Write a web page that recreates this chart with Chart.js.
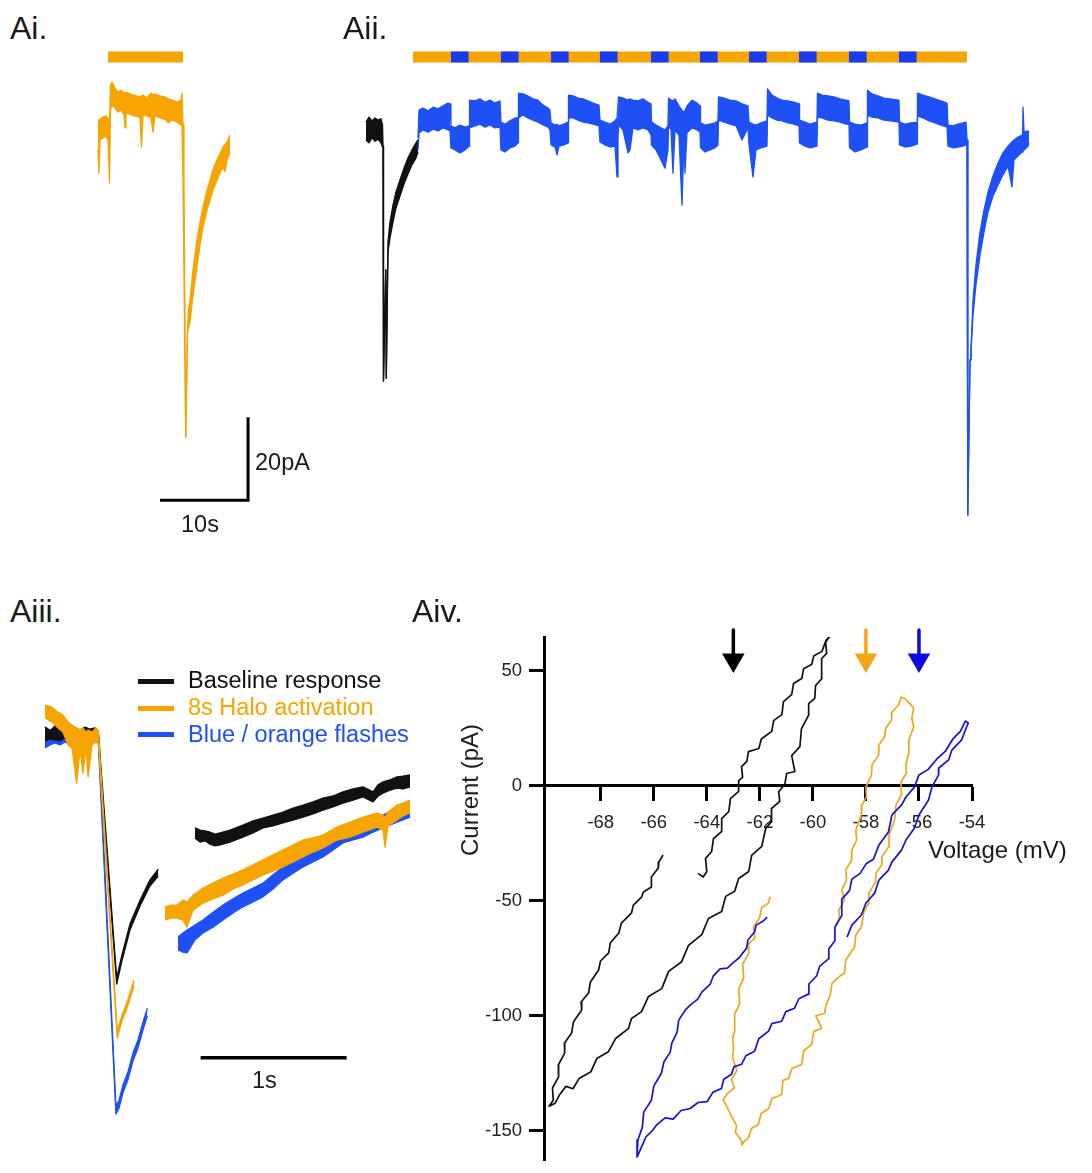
<!DOCTYPE html>
<html>
<head>
<meta charset="utf-8">
<script src="https://cdn.jsdelivr.net/npm/chart.js@4.4.0/dist/chart.umd.min.js"></script>
<style>
  body { margin: 0; background: #fff; }
  #page { position: relative; width: 1092px; height: 1173px; overflow: hidden; font-family: "Liberation Sans", Arial, sans-serif; color: #1a1a1a; }
  #page canvas { position: absolute; }
  .lbl { position: absolute; white-space: nowrap; line-height: 1; }
  .key { position: absolute; height: 5px; width: 36px; left: 138px; }
</style>
</head>
<body>
<div id="page">
  <canvas id="ai" width="260" height="500" style="left:90px;top:40px"></canvas>
  <canvas id="aii" width="700" height="490" style="left:355px;top:40px"></canvas>
  <canvas id="aiii" width="400" height="460" style="left:30px;top:680px"></canvas>
  <canvas id="aiv" width="652" height="565" style="left:440px;top:615px"></canvas>

  <div class="lbl" style="left:10px;top:12px;font-size:32px">Ai.</div>
  <div class="lbl" style="left:343px;top:12px;font-size:32px">Aii.</div>
  <div class="lbl" style="left:10px;top:595px;font-size:32px">Aiii.</div>
  <div class="lbl" style="left:412px;top:595px;font-size:32px">Aiv.</div>

  <div class="lbl" style="left:255px;top:451px;font-size:23.5px">20pA</div>
  <div class="lbl" style="left:181px;top:513px;font-size:23.5px">10s</div>

  <div class="key" style="top:679px;background:#111"></div>
  <div class="key" style="top:706px;background:#f5a400"></div>
  <div class="key" style="top:732px;background:#1e50f5"></div>
  <div class="lbl" style="left:188px;top:669px;font-size:23.5px;color:#111">Baseline response</div>
  <div class="lbl" style="left:188px;top:696px;font-size:23.5px;color:#f5a400">8s Halo activation</div>
  <div class="lbl" style="left:188px;top:723px;font-size:23.5px;color:#1e50f5">Blue / orange flashes</div>
  <div class="lbl" style="left:252px;top:1069px;font-size:23.5px">1s</div>

  <div class="lbl" style="left:470px;top:790px;font-size:24px;transform:translate(-50%,-50%) rotate(-90deg)">Current (pA)</div>
  <div class="lbl" style="left:928px;top:838px;font-size:24px">Voltage (mV)</div>
</div>

<script>
// Ai: 8 s Halo activation, [time s, upper pA, lower pA] envelope of the noisy trace
const aiOrange = [
  [0, -0.5, -7.2], [0.11, 0, -12.8], [0.23, 0.2, -4.8], [0.57, 0.7, -4.3], [0.91, 1.0, -3.9],
  [1.14, 0.5, -4.8], [1.31, 0, -15.2], [1.42, 8.4, 2.4], [1.59, 9.2, 3.6], [1.93, 7.7, 2.9],
  [2.27, 6.7, 1.9], [2.61, 7.2, 2.4], [2.95, 6.5, 1.2], [3.07, 6.5, -1.9], [3.18, 6.7, 1.7],
  [3.64, 6.3, 1.4], [4.09, 6.0, 1.0], [4.77, 5.5, 0.7], [4.94, 5.8, -6.5], [5.11, 6.0, 1.2],
  [5.57, 5.3, 1.0], [6.02, 6.5, 0.5], [6.25, 6.0, -2.9], [6.48, 6.3, 1.0], [7.05, 5.8, 0.5],
  [7.73, 5.5, 0], [7.95, 5.1, -0.7], [8.41, 4.8, 0], [8.98, 4.3, -0.5], [9.43, 4.8, -1.2],
  [9.55, 6.5, -1.2], [9.66, -1.2, -15.2], [9.77, -15.2, -15.2], [9.97, -76.4, -76.4],
  [10.17, -51.1, -51.1], [10.28, -45.8, -50.1], [10.45, -43.4, -48.7], [10.80, -36.1, -42.2],
  [11.25, -28.9, -35.4], [11.59, -24.6, -30.1], [11.93, -21.0, -25.8], [12.39, -16.9, -21.7],
  [12.73, -14.5, -19.3], [13.07, -12.0, -16.9], [13.52, -9.6, -14.5], [13.86, -8.2, -12.8],
  [14.20, -6.5, -11.3], [14.43, -6.0, -12.5], [14.66, -5.3, -9.6], [15.0, -3.6, -8.0]
];
const aiLight = [1.14, 9.66];

// Aii: baseline (black) then blue / orange flashes (blue)
const aiiBlack = [
  [0.11, 1.9, -2.4], [0.45, 3.1, -3.1], [0.80, 2.2, -1.9], [1.14, 2.9, -2.7], [1.48, 2.4, -2.2],
  [1.82, 2.7, -3.1], [1.99, 1.2, -4.1], [2.05, -3.9, -3.9], [2.10, -60.5, -60.5], [2.36, -33.7, -33.7],
  [2.42, -59.8, -59.8], [2.61, -27.0, -29.5], [2.84, -22.2, -26.0], [3.18, -18.1, -22.2],
  [3.52, -14.9, -18.8], [3.98, -12.0, -15.9], [4.43, -9.2, -13.0], [4.89, -6.7, -10.6],
  [5.34, -4.8, -8.4], [5.80, -3.1, -6.7], [6.02, -2.4, -5.3]
];
const aiiBlue = [
  [6.02, -1.9, -4.8], [6.14, 4.8, -0.7], [6.59, 5.3, 0], [7.16, 4.6, -0.5], [7.73, 5.5, 0.2],
  [8.30, 5.1, -0.2], [8.86, 5.8, 0.5], [9.43, 6.5, 0], [9.66, 6.3, -0.2], [9.77, 1.0, -4.3],
  [10.23, 0.5, -4.8], [10.80, 1.2, -5.5], [11.36, 0.7, -4.8], [11.82, 1.0, -3.9], [11.88, 7.2, 0.5],
  [12.5, 7.0, 1.0], [13.07, 7.5, 1.4], [13.64, 6.7, 0.7], [14.20, 7.2, 1.2], [14.77, 6.5, 0.5],
  [15.34, 7.0, 0.7], [15.45, 1.9, -4.8], [15.91, 1.4, -5.3], [16.48, 2.2, -4.3], [17.05, 2.9, -3.9],
  [17.39, 2.9, -3.1], [17.44, 8.9, 2.9], [17.95, 8.7, 3.6], [18.52, 8.2, 2.9], [19.09, 7.5, 2.4],
  [19.66, 7.2, 1.9], [20.23, 6.0, 1.2], [20.80, 5.3, 0.7], [21.02, 4.8, 0], [21.14, 1.7, -3.6],
  [21.59, 1.2, -4.1], [21.82, 1.4, -6.0], [22.05, 1.0, -3.9], [22.61, 1.4, -3.6], [23.07, 1.9, -3.1],
  [23.13, 8.4, 2.9], [23.64, 8.2, 2.9], [24.20, 7.7, 2.4], [24.77, 7.5, 1.9], [25.34, 7.0, 1.7],
  [25.91, 6.5, 1.4], [26.59, 6.0, 1.0], [26.70, 2.4, -2.9], [27.27, 1.9, -3.6], [27.84, 1.4, -4.1],
  [28.41, 2.2, -3.9], [28.64, 2.9, -11.3], [28.75, 2.9, -2.4], [28.81, 8.0, 1.2], [29.32, 7.7, 0],
  [29.89, 7.2, -5.5], [30.11, 7.5, -4.8], [30.45, 7.2, 0.5], [31.02, 7.0, 0], [31.59, 7.5, 0.5],
  [32.16, 6.7, 0], [32.50, 6.3, -1.2], [32.56, 1.9, -3.6], [33.07, 1.2, -4.8], [33.64, 0.5, -7.2],
  [34.09, 0, -9.2], [34.43, 1.0, -4.8], [34.49, 7.7, 1.2], [34.77, 7.2, 0], [35.0, 7.0, -10.4],
  [35.23, 7.5, 0], [35.68, 5.8, -1.2], [36.02, 4.8, -18.1], [36.25, 4.3, -1.9], [36.36, 4.6, -10.4],
  [36.59, 5.8, -0.7], [37.16, 7.2, 0.5], [37.73, 6.5, 0], [38.07, 5.8, -0.5], [38.13, 1.7, -4.3],
  [38.64, 1.2, -5.3], [39.20, 1.4, -4.8], [39.77, 1.7, -4.3], [40.11, 2.2, -3.6], [40.17, 8.0, 2.4],
  [40.80, 7.7, 1.9], [41.48, 7.2, 1.4], [42.16, 7.0, 1.0], [42.84, 6.3, -2.4], [43.52, 5.8, 0.5],
  [43.64, 1.9, -3.6], [44.09, 1.4, -11.3], [44.43, 1.2, -4.8], [45.0, 1.7, -4.3], [45.68, 2.2, -3.9],
  [45.74, 9.9, 3.6], [46.25, 8.4, 2.9], [46.82, 7.7, 2.4], [47.39, 7.2, 2.2], [48.07, 7.0, 1.7],
  [48.75, 6.7, 1.4], [49.32, 6.3, 1.0], [49.38, 2.4, -3.1], [50.0, 1.9, -3.9], [50.57, 1.4, -4.3],
  [51.36, 1.9, -3.9], [51.42, 8.9, 3.1], [51.93, 8.4, 2.9], [52.61, 8.2, 2.4], [53.30, 8.0, 2.2],
  [53.98, 7.5, 1.9], [54.66, 7.2, 1.4], [55.0, 7.0, 1.4], [55.06, 1.9, -4.3], [55.68, 1.4, -5.3],
  [56.36, 1.2, -4.8], [57.05, 1.7, -4.1], [57.10, 9.6, 3.6], [57.61, 8.7, 3.1], [58.30, 8.2, 2.9],
  [58.98, 7.7, 2.4], [59.66, 7.5, 2.2], [60.68, 7.2, 1.9], [60.74, 1.9, -3.6], [61.36, 1.4, -4.1],
  [62.05, 1.7, -3.9], [62.73, 1.9, -3.4], [62.78, 8.9, 3.4], [63.41, 8.4, 2.9], [64.09, 8.0, 2.2],
  [64.77, 7.5, 1.7], [65.45, 7.0, 1.2], [66.14, 6.5, 0.7], [66.25, 1.2, -3.9], [66.82, 1.0, -4.3],
  [67.39, 1.4, -4.1], [67.95, 1.7, -3.9], [68.30, 1.9, -3.6], [68.41, -2.4, -2.4], [68.50, -92.8, -92.8],
  [68.75, -55.4, -55.4], [68.86, -53.0, -53.5], [69.09, -41.0, -44.6], [69.43, -32.5, -37.3],
  [69.89, -24.6, -30.1], [70.34, -19.3, -24.6], [70.80, -14.9, -19.8], [71.36, -11.1, -15.9],
  [71.93, -8.0, -13.3], [72.50, -5.5, -10.8], [73.07, -3.9, -8.7], [73.52, -2.9, -13.7],
  [73.75, -2.4, -7.2], [74.20, -1.7, -6.3], [74.66, -1.2, -5.3], [74.77, 5.5, -4.8],
  [74.89, -0.5, -4.8], [75.34, -0.2, -3.9], [75.45, -0.7, -3.1]
];
const aiiLight = [5.45, 68.4];
const flashStarts = [9.77, 15.45, 21.14, 26.70, 32.5, 38.07, 43.64, 49.32, 55.0, 60.68];
const flashLength = 2.0;

// Aiii: responses overlaid, [time s, upper pA, lower pA]
const aiiiBlack1 = [
  [0, 1.9, -1.4], [0.034, 1.0, -1.0], [0.068, 2.2, -1.2], [0.103, 1.2, -1.4], [0.137, 1.9, -0.7],
  [0.171, 1.4, -1.7], [0.205, 1.7, -1.0], [0.240, 1.2, -1.4], [0.274, 1.9, -1.2], [0.308, 1.4, -0.7],
  [0.342, 1.7, -1.2], [0.365, 1.0, -1.2], [0.491, -58.6, -60.0], [0.525, -53.3, -54.7],
  [0.582, -45.5, -47.0], [0.651, -39.8, -41.2], [0.719, -34.9, -36.4], [0.776, -32.3, -34.0]
];
const aiiiBlack2 = [
  [1.027, -22.4, -24.8], [1.062, -22.9, -25.8], [1.096, -23.1, -25.5], [1.130, -23.4, -26.3],
  [1.164, -23.9, -26.7], [1.199, -23.6, -26.5], [1.267, -22.9, -25.8], [1.356, -21.7, -24.6],
  [1.425, -20.7, -23.6], [1.493, -20.0, -22.4], [1.562, -19.3, -21.9], [1.630, -18.6, -21.2],
  [1.699, -17.6, -20.5], [1.767, -16.9, -19.8], [1.836, -16.1, -19.0], [1.904, -15.2, -18.1],
  [1.973, -14.7, -17.3], [2.041, -13.7, -16.4], [2.110, -13.0, -15.7], [2.178, -12.5, -14.9],
  [2.247, -13.7, -16.1], [2.281, -12.0, -14.7], [2.315, -11.3, -14.0], [2.363, -10.8, -13.3],
  [2.411, -10.1, -12.8], [2.452, -9.9, -13.0], [2.5, -9.6, -12.5]
];
const aiiiOrange1 = [
  [0, 7.2, 4.1], [0.048, 6.7, 3.1], [0.089, 5.5, 1.7], [0.123, 4.8, 0.7], [0.158, 3.1, -2.4],
  [0.185, 2.4, -3.1], [0.217, 1.7, -11.6], [0.240, 1.2, -3.6], [0.260, 1.7, -9.2], [0.281, 0.7, -3.1],
  [0.295, 1.2, -10.1], [0.322, 0.7, -2.4], [0.349, 1.7, -1.7], [0.365, 1.2, -1.7],
  [0.495, -71.3, -73.0], [0.527, -67.5, -68.9], [0.560, -64.6, -66.0], [0.610, -59.0, -60.5]
];
const aiiiOrange2 = [
  [0.822, -41.4, -44.6], [0.863, -41.0, -44.1], [0.904, -41.0, -44.1], [0.945, -39.8, -44.6],
  [0.973, -40.2, -46.3], [1.014, -38.6, -42.2], [1.082, -36.9, -40.5], [1.151, -35.7, -39.5],
  [1.219, -34.5, -38.6], [1.288, -33.5, -37.1], [1.356, -32.5, -36.1], [1.425, -31.3, -34.9],
  [1.493, -30.1, -33.7], [1.562, -28.9, -32.8], [1.630, -27.7, -31.8], [1.699, -26.5, -30.6],
  [1.767, -25.3, -29.4], [1.836, -24.8, -28.2], [1.904, -24.1, -27.2], [2.0, -22.2, -25.3],
  [2.089, -21.0, -24.6], [2.178, -19.8, -23.4], [2.274, -18.8, -22.2], [2.315, -19.3, -22.9],
  [2.329, -19.8, -27.0], [2.349, -18.6, -22.0], [2.411, -16.9, -20.5], [2.452, -16.4, -19.5],
  [2.5, -15.7, -18.8]
];
const aiiiBlue1 = [
  [0, 1.9, -3.1], [0.034, 1.2, -2.4], [0.068, 1.7, -1.9], [0.103, 1.0, -2.4], [0.137, 1.4, -1.7],
  [0.171, 1.0, -2.4], [0.205, 1.7, -1.7], [0.240, 1.2, -2.2], [0.274, 1.4, -1.7], [0.308, 1.0, -2.2],
  [0.342, 1.4, -1.7], [0.365, 0.7, -1.7], [0.486, -89.4, -91.3], [0.507, -88.0, -89.9],
  [0.536, -84.1, -86.0], [0.568, -81.2, -83.1], [0.605, -76.4, -78.3], [0.637, -73.5, -75.4],
  [0.671, -69.2, -71.1], [0.701, -65.8, -67.7]
];
const aiiiBlue2 = [
  [0.911, -48.7, -51.8], [0.945, -47.7, -52.3], [0.973, -47.0, -52.5], [1.027, -45.8, -49.4],
  [1.082, -44.6, -47.7], [1.151, -42.7, -46.3], [1.219, -41.0, -44.6], [1.288, -39.5, -42.9],
  [1.356, -38.1, -41.4], [1.425, -36.9, -40.2], [1.493, -35.7, -39.0], [1.562, -33.7, -37.1],
  [1.630, -31.8, -34.9], [1.699, -30.1, -33.3], [1.767, -28.4, -31.8], [1.836, -27.2, -30.6],
  [1.904, -26.0, -29.4], [1.973, -24.3, -27.7], [2.041, -22.9, -26.0], [2.110, -21.9, -25.3],
  [2.178, -21.2, -24.6], [2.247, -20.5, -23.4], [2.315, -19.3, -22.4], [2.411, -17.6, -21.0],
  [2.5, -16.4, -19.8]
];

// Aiv: I-V ramps, [voltage mV, current pA]
const ivBlack = [
  [-65.65, -30.1], [-65.81, -33.2], [-65.83, -35.8], [-66.09, -39.7], [-66.09, -44.0], [-66.39, -46.2],
  [-66.46, -48.4], [-66.77, -51.9], [-66.84, -55.3], [-67.22, -59.7], [-67.32, -64.0], [-67.64, -68.4],
  [-67.70, -72.7], [-68.01, -76.2], [-68.08, -80.1], [-68.39, -85.3], [-68.46, -90.1], [-68.74, -94.0],
  [-68.72, -97.5], [-69.03, -102.7], [-69.10, -107.5], [-69.37, -111.9], [-69.36, -116.2],
  [-69.60, -121.4], [-69.59, -126.6], [-69.82, -131.4], [-69.79, -136.7], [-69.95, -139.3],
  [-69.72, -138.0], [-69.54, -134.1], [-69.31, -130.7], [-69.05, -131.7], [-68.82, -127.3],
  [-68.37, -124.3], [-68.15, -118.6], [-67.71, -115.6], [-67.44, -109.9], [-66.96, -105.6],
  [-66.84, -101.2], [-66.46, -98.2], [-66.20, -91.6], [-65.70, -88.2], [-65.44, -80.7], [-64.95, -76.5],
  [-64.69, -69.4], [-64.19, -64.7], [-63.94, -57.7], [-63.44, -54.7], [-63.29, -48.1], [-62.95, -45.9],
  [-62.80, -40.3], [-62.42, -37.3], [-62.31, -30.3], [-61.93, -26.4], [-61.78, -18.6], [-61.55, -15.5],
  [-61.56, -9.9], [-61.25, -6.8], [-61.29, -2.6], [-61.06, 0.6], [-60.99, 5.3], [-60.68, 6.2],
  [-60.80, 13.1], [-60.49, 17.0], [-60.43, 24.8], [-60.15, 30.9], [-60.16, 35.7], [-59.93, 38.0],
  [-59.90, 43.5], [-59.66, 46.6], [-59.67, 55.3], [-59.48, 57.5], [-59.52, 62.5], [-59.38, 64.7],
  [-59.50, 63.3], [-59.66, 58.4], [-59.97, 56.4], [-60.04, 52.8], [-60.35, 50.9], [-60.42, 46.6],
  [-60.73, 44.4], [-60.80, 39.6], [-61.11, 36.6], [-61.17, 30.9], [-61.48, 28.3], [-61.55, 23.6],
  [-61.94, 20.4], [-62.04, 16.2], [-62.43, 14.8], [-62.49, 10.6], [-62.69, 8.3], [-62.65, 3.6],
  [-62.80, 2.2], [-62.80, -2.5], [-63.11, -5.6], [-63.17, -11.2], [-63.44, -14.3], [-63.44, -19.9],
  [-63.75, -23.0], [-63.82, -28.6], [-64.05, -31.7], [-64.00, -37.3], [-64.14, -39.7], [-64.33, -38.1]
];
const ivOrange = [
  [-61.61, -48.4], [-61.67, -50.9], [-61.93, -53.1], [-62.01, -57.4], [-62.24, -61.4], [-62.19, -66.1],
  [-62.43, -68.9], [-62.42, -73.0], [-62.65, -77.6], [-62.61, -83.5], [-62.80, -88.4], [-62.76, -94.8],
  [-62.95, -99.3], [-62.95, -106.5], [-63.03, -110.3], [-62.99, -113.9], [-63.03, -118.0],
  [-62.87, -123.9], [-63.07, -127.6], [-62.96, -131.3], [-63.25, -134.1], [-63.38, -136.7],
  [-63.24, -139.6], [-63.07, -143.6], [-62.88, -147.8], [-62.92, -150.6], [-62.69, -154.3],
  [-62.67, -156.2], [-62.57, -154.2], [-62.44, -153.3], [-62.32, -149.0], [-62.06, -147.3],
  [-61.95, -142.5], [-61.67, -140.3], [-61.54, -136.0], [-61.18, -134.2], [-61.13, -128.1],
  [-60.92, -127.3], [-60.79, -122.9], [-60.43, -121.2], [-60.34, -115.1], [-60.05, -112.5],
  [-59.96, -106.8], [-59.67, -105.4], [-59.89, -100.0], [-59.56, -99.0], [-59.51, -95.6],
  [-59.35, -91.2], [-59.28, -85.9], [-59.01, -83.0], [-58.81, -81.4], [-58.76, -75.8], [-58.43, -70.1],
  [-58.38, -64.9], [-58.17, -61.4], [-58.08, -54.9], [-57.90, -51.0], [-57.89, -46.7], [-57.64, -41.9],
  [-57.62, -38.0], [-57.41, -34.5], [-57.40, -31.0], [-57.15, -26.7], [-57.13, -21.4], [-56.92, -14.9],
  [-56.87, -8.4], [-56.66, -4.0], [-56.68, 1.6], [-56.47, 5.5], [-56.49, 9.0], [-56.39, 14.2],
  [-56.38, 19.9], [-56.20, 25.5], [-56.27, 29.4], [-56.20, 33.8], [-56.37, 36.0], [-56.52, 37.7],
  [-56.67, 38.6], [-56.77, 35.1], [-57.02, 32.0], [-57.03, 28.6], [-57.25, 25.1], [-57.30, 21.2],
  [-57.51, 17.7], [-57.52, 13.3], [-57.77, 9.0], [-57.79, 4.7], [-58.00, -0.6], [-57.98, -4.9],
  [-58.15, -8.4], [-58.17, -12.7], [-58.38, -19.3], [-58.35, -23.6], [-58.53, -28.0], [-58.54, -32.3],
  [-58.76, -36.7], [-58.73, -41.0], [-58.91, -45.3], [-58.81, -49.7], [-59.02, -54.0], [-59.00, -57.5],
  [-59.12, -60.6]
];
const ivBlue = [
  [-61.72, -57.1], [-61.87, -58.8], [-62.14, -60.6], [-62.20, -63.6], [-62.45, -67.1], [-62.50, -70.6],
  [-62.79, -74.9], [-62.97, -76.6], [-63.23, -79.3], [-63.50, -79.6], [-63.76, -82.8], [-63.87, -86.2],
  [-64.19, -89.7], [-64.34, -92.8], [-64.63, -95.4], [-64.79, -97.2], [-65.06, -101.9], [-65.12, -107.1],
  [-65.32, -111.9], [-65.38, -115.8], [-65.62, -120.1], [-65.71, -124.9], [-66.00, -130.6],
  [-66.09, -136.7], [-66.38, -141.9], [-66.43, -148.4], [-66.60, -154.0], [-66.63, -161.4],
  [-66.48, -157.5], [-66.30, -152.7], [-66.08, -150.3], [-65.88, -147.3], [-65.57, -144.4],
  [-65.27, -144.9], [-64.97, -141.2], [-64.63, -140.3], [-64.33, -137.7], [-63.99, -137.3],
  [-63.77, -133.3], [-63.45, -131.6], [-63.36, -127.6], [-63.07, -125.4], [-62.98, -122.2],
  [-62.69, -121.1], [-62.53, -117.4], [-62.20, -115.4], [-62.04, -110.0], [-61.67, -106.7],
  [-61.55, -103.4], [-61.18, -102.4], [-61.02, -98.2], [-60.69, -96.7], [-60.53, -92.6], [-60.17, -90.6],
  [-60.15, -86.2], [-59.86, -82.7], [-59.74, -78.4], [-59.41, -75.3], [-59.40, -71.0], [-59.18, -67.5],
  [-59.17, -61.5], [-58.92, -56.6], [-58.91, -49.3], [-58.62, -45.6], [-58.53, -40.6], [-58.22, -38.1],
  [-57.99, -33.9], [-57.72, -32.0], [-57.51, -25.8], [-57.15, -20.1], [-57.02, -12.7], [-56.66, -8.4],
  [-56.49, -4.9], [-56.17, -0.6], [-56.00, 4.7], [-55.65, 7.1], [-55.31, 11.8], [-55.01, 14.9],
  [-54.71, 20.5], [-54.44, 23.6], [-54.25, 28.1], [-54.14, 27.3], [-54.22, 25.1], [-54.39, 19.9],
  [-54.76, 15.5], [-54.88, 11.2], [-55.25, 7.7], [-55.26, 4.7], [-55.51, -0.6], [-55.64, -6.2],
  [-56.00, -12.7], [-56.17, -18.4], [-56.49, -23.6], [-56.66, -28.0], [-57.02, -33.2], [-57.15, -36.7],
  [-57.51, -41.0], [-57.67, -46.7], [-58.00, -51.0], [-58.17, -56.2], [-58.53, -60.6], [-58.71, -65.8]
];
const reversalPotentials = [-63, -58, -56];
const voltageTicks = [-68, -66, -64, -62, -60, -58, -56, -54];
const currentTicks = [-150, -100, -50, 0, 50];

const ORANGE = "#f5a400";
const BLUE = "#1e50f5";
const BLACK = "#111111";

function band(rows, color, width) {
  const hi = rows.map(r => ({ x: r[0], y: r[1] }));
  const lo = rows.map(r => ({ x: r[0], y: r[2] }));
  return [
    { data: hi, borderColor: color, borderWidth: width, fill: false },
    { data: lo, borderColor: color, borderWidth: width, backgroundColor: color, fill: "-1" }
  ];
}

function segment(x0, x1, y, color, width) {
  return { data: [{ x: x0, y: y }, { x: x1, y: y }], borderColor: color, borderWidth: width, fill: false };
}

function traceOptions(xMin, xMax, yMin, yMax) {
  return {
    responsive: false,
    animation: false,
    events: [],
    layout: { padding: 0 },
    plugins: { legend: { display: false }, tooltip: { enabled: false } },
    elements: { point: { radius: 0 }, line: { tension: 0, borderJoinStyle: "round" } },
    scales: {
      x: { type: "linear", min: xMin, max: xMax, display: false },
      y: { type: "linear", min: yMin, max: yMax, display: false }
    }
  };
}

// Ai
const aiScale = {
  data: [{ x: 7.05, y: -91.6 }, { x: 17.05, y: -91.6 }, { x: 17.05, y: -71.6 }],
  borderColor: "#000", borderWidth: 3, fill: false, borderJoinStyle: "miter"
};
new Chart(document.getElementById("ai"), {
  type: "line",
  data: { datasets: [aiScale, segment(aiLight[0], aiLight[1], 15.2, ORANGE, 11), ...band(aiOrange, ORANGE, 1.3)] },
  options: traceOptions(-0.909, 28.636, -101.205, 19.277)
});

// Aii
const flashData = [];
flashStarts.forEach(s => {
  flashData.push({ x: s, y: 17.6 }, { x: s + flashLength, y: 17.6 }, { x: s + flashLength, y: null });
});
new Chart(document.getElementById("aii"), {
  type: "line",
  data: {
    datasets: [
      { data: flashData, borderColor: "#1a3cf0", borderWidth: 11, fill: false, spanGaps: false },
      segment(aiiLight[0], aiiLight[1], 17.6, ORANGE, 11),
      ...band(aiiBlue, BLUE, 1.3),
      ...band(aiiBlack, BLACK, 1.3)
    ]
  },
  options: traceOptions(-1.136, 78.409, -96.386, 21.687)
});

// Aiii
new Chart(document.getElementById("aiii"), {
  type: "line",
  data: {
    datasets: [
      segment(1.066, 2.066, -77.8, "#000", 3.5),
      ...band(aiiiOrange1, ORANGE, 1.3),
      ...band(aiiiOrange2, ORANGE, 1.3),
      ...band(aiiiBlack1, BLACK, 1.3),
      ...band(aiiiBlack2, BLACK, 1.3),
      ...band(aiiiBlue1, BLUE, 1.3),
      ...band(aiiiBlue2, BLUE, 1.3)
    ]
  },
  options: traceOptions(-0.1027, 2.637, -97.59, 13.253)
});

// Aiv
const ivColors = ["#000000", "#f2a516", "#0c0ce0"];
const arrowSets = [];
reversalPotentials.forEach((v, i) => {
  arrowSets.push({
    data: [{ x: v, y: 67.7 }, { x: v, y: 56.5 }],
    borderColor: ivColors[i], borderWidth: 3.5, fill: false, clip: false
  });
  arrowSets.push({
    data: [{ x: v, y: 54.7 }], showLine: false, clip: false,
    pointStyle: "triangle", pointRotation: 180, pointRadius: 13,
    pointBackgroundColor: ivColors[i], pointBorderWidth: 0, pointBorderColor: ivColors[i]
  });
});
const toXY = rows => rows.map(r => ({ x: r[0], y: r[1] }));
const axisFont = { family: "Liberation Sans", size: 18.5 };
new Chart(document.getElementById("aiv"), {
  type: "line",
  data: {
    datasets: [
      ...arrowSets,
      { data: toXY(ivBlue), borderColor: "#1414d2", borderWidth: 1.7, fill: false },
      { data: toXY(ivOrange), borderColor: "#f0a51c", borderWidth: 1.7, fill: false },
      { data: toXY(ivBlack), borderColor: "#111", borderWidth: 1.7, fill: false }
    ]
  },
  options: {
    responsive: false,
    animation: false,
    events: [],
    layout: { padding: { top: 22, bottom: 20, left: 0, right: 120 } },
    plugins: { legend: { display: false }, tooltip: { enabled: false } },
    elements: { point: { radius: 0 }, line: { tension: 0, borderJoinStyle: "round" } },
    scales: {
      x: {
        type: "linear", min: -70.14, max: -54, position: { y: 0 },
        border: { display: true, color: "#000", width: 3 },
        grid: { display: true, drawOnChartArea: false, drawTicks: true, tickLength: 14, tickWidth: 3, tickColor: "#000" },
        ticks: { color: "#222", font: axisFont, padding: 12, maxRotation: 0, autoSkip: false },
        afterBuildTicks: s => { s.ticks = voltageTicks.map(v => ({ value: v })); }
      },
      y: {
        type: "linear", min: -162.7, max: 64.65, position: "left",
        border: { display: true, color: "#000", width: 3 },
        grid: { display: true, drawOnChartArea: false, drawTicks: true, tickLength: 15, tickWidth: 3, tickColor: "#000" },
        ticks: { color: "#222", font: axisFont, padding: 7, autoSkip: false },
        afterBuildTicks: s => { s.ticks = currentTicks.map(v => ({ value: v })); },
        afterFit: s => { s.width = 104; }
      }
    }
  }
});
</script>
</body>
</html>
